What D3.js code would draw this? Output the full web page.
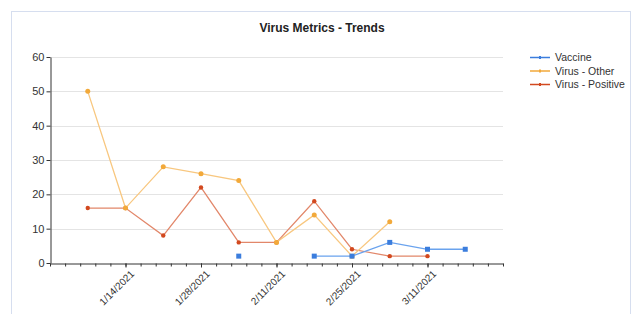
<!DOCTYPE html>
<html>
<head>
<meta charset="utf-8">
<script src="https://cdn.jsdelivr.net/npm/d3@7"></script>
<style>
  body { margin: 0; background: #fff; font-family: "Liberation Sans", Arial, sans-serif; }
  .grid line { stroke: #e4e4e4; }
  .axis path, .axis line { stroke: #333; }
  .axis text { fill: #333; }
</style>
</head>
<body>
<div id="chart"></div>
<script>
// Chart data (weekly readings)
const dates = ["1/7/2021", "1/14/2021", "1/21/2021", "1/28/2021", "2/4/2021", "2/11/2021",
               "2/18/2021", "2/25/2021", "3/4/2021", "3/11/2021", "3/18/2021"];
const vaccine = [null, null, null, null, 2, null, 2, 2, 6, 4, 4];
const virusOther = [50, 16, 28, 26, 24, 6, 14, 2, 12, null, null];
const virusPositive = [16, 16, 8, 22, 6, 6, 18, 4, 2, 2, null];
const tickDates = ["1/14/2021", "1/28/2021", "2/11/2021", "2/25/2021", "3/11/2021"];
const yTicks = [0, 10, 20, 30, 40, 50, 60];

const parse = d3.timeParse("%m/%d/%Y");

const seriesList = [
    { name: "Vaccine", values: vaccine, line: "#6aa3ee", mark: "#3b7ddd", shape: "square" },
    { name: "Virus - Other", values: virusOther, line: "#f8c77f", mark: "#f2a93a", shape: "circle" },
    { name: "Virus - Positive", values: virusPositive, line: "#e2876a", mark: "#d2491f", shape: "circle" }
];

const W = 632, H = 314;
const svg = d3.select("#chart").append("svg").attr("width", W).attr("height", H);

// outer frame
svg.append("rect")
    .attr("x", 11.5).attr("y", 11.5)
    .attr("width", 619).attr("height", 320)
    .attr("fill", "none").attr("stroke", "#d6deef");

svg.append("text")
    .attr("x", 322).attr("y", 32)
    .attr("text-anchor", "middle")
    .style("font-size", "12px").style("font-weight", "bold").style("fill", "#222")
    .text("Virus Metrics - Trends");

const x = d3.scaleTime()
    .domain([new Date(2020, 11, 31), new Date(2021, 2, 25)])
    .range([50, 503]);
const y = d3.scaleLinear().domain([0, 60]).range([263, 57]);

// gridlines
svg.append("g").attr("class", "grid")
    .selectAll("line").data(yTicks.slice(1)).join("line")
    .attr("x1", 51).attr("x2", 503)
    .attr("y1", d => Math.round(y(d)) + 0.5).attr("y2", d => Math.round(y(d)) + 0.5);

// y axis
svg.append("g").attr("class", "axis")
    .attr("transform", "translate(50.5,0)")
    .call(d3.axisLeft(y).tickValues(yTicks).tickSize(4).tickSizeOuter(0))
    .call(g => g.selectAll("text").style("font-size", "11px").attr("x", -6));

// x axis: minor ticks every fifth of the 14-day span
const [d0, d1] = x.domain();
const minor = d3.range(0, 31).map(i => new Date(+d0 + i * (d1 - d0) / 30));
svg.append("g").attr("class", "axis")
    .attr("transform", "translate(0,263.5)")
    .call(d3.axisBottom(x).tickValues(minor).tickSize(3).tickSizeOuter(0).tickFormat(""));

const xAxis = svg.append("g").attr("class", "axis")
    .attr("transform", "translate(0,263.5)")
    .call(d3.axisBottom(x).tickValues(tickDates.map(parse)).tickSize(4)
        .tickFormat(d3.timeFormat("%-m/%-d/%Y")));
xAxis.select(".domain").remove();
xAxis.selectAll("text")
    .style("font-size", "10px")
    .attr("text-anchor", "end")
    .attr("dy", 0)
    .attr("transform", "translate(4,6) rotate(-45)");

// lines and markers
const line = d3.line()
    .defined(d => d.v != null)
    .x(d => x(d.date))
    .y(d => y(d.v));

// draw in reverse so Vaccine sits on top
seriesList.slice().reverse().forEach(s => {
    const pts = dates.map((d, i) => ({ date: parse(d), v: s.values[i] }));
    svg.append("path")
        .datum(pts)
        .attr("fill", "none")
        .attr("stroke", s.line)
        .attr("stroke-width", 1.3)
        .attr("d", line);
    const valid = pts.filter(p => p.v != null);
    if (s.shape === "square") {
        svg.selectAll(null).data(valid).join("rect")
            .attr("x", p => x(p.date) - 2.5).attr("y", p => y(p.v) - 2.5)
            .attr("width", 5).attr("height", 5)
            .attr("fill", s.mark);
    } else {
        svg.selectAll(null).data(valid).join("circle")
            .attr("cx", p => x(p.date)).attr("cy", p => y(p.v))
            .attr("r", s.name === "Virus - Other" ? 2.5 : 2.2)
            .attr("fill", s.mark);
    }
});

// legend
const legend = svg.append("g").attr("transform", "translate(530,57)");
seriesList.forEach((s, i) => {
    const g = legend.append("g").attr("transform", `translate(0,${i * 13.5})`);
    g.append("line").attr("x1", 0).attr("x2", 20).attr("y1", 0.5).attr("y2", 0.5)
        .attr("stroke", s.mark).attr("stroke-width", 1.5);
    g.append("rect").attr("x", 9).attr("y", -1).attr("width", 2).attr("height", 3).attr("fill", s.mark);
    g.append("text").attr("x", 25).attr("y", 4)
        .style("font-size", "10.5px").style("fill", "#333")
        .text(s.name);
});
</script>
</body>
</html>
